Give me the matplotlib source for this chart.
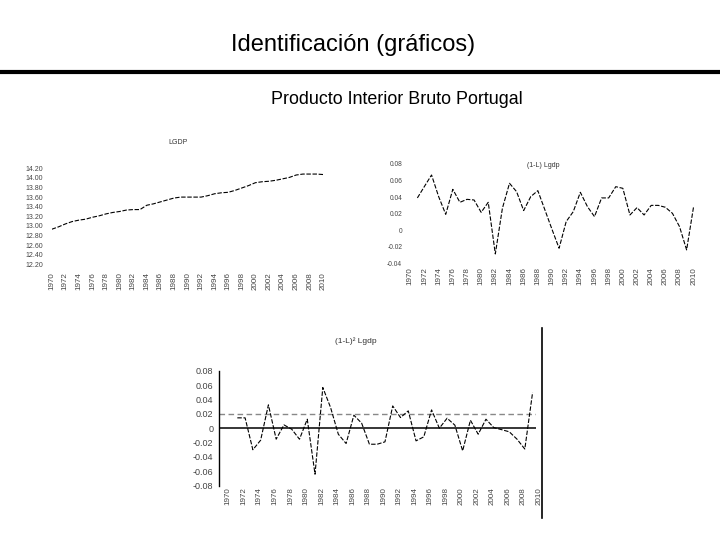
import matplotlib
matplotlib.use("Agg")
import matplotlib.pyplot as plt
import matplotlib.transforms as mtransforms

plt.rcParams['font.family'] = ['Liberation Sans', 'DejaVu Sans']

# ---------------- data ----------------
years = list(range(1970, 2011))
lgdp = [12.93, 12.98, 13.04, 13.09, 13.12, 13.14, 13.18, 13.21, 13.25, 13.28,
        13.30, 13.33, 13.34, 13.34, 13.43, 13.46, 13.50, 13.54, 13.58, 13.60,
        13.60, 13.60, 13.60, 13.63, 13.67, 13.69, 13.70, 13.74, 13.79, 13.84,
        13.90, 13.92, 13.93, 13.95, 13.98, 14.01, 14.06, 14.08, 14.08, 14.08,
        14.07]

years_d1 = list(range(1971, 2011))
d1_lgdp = [0.039, 0.053, 0.0667, 0.0406, 0.0192, 0.0494, 0.0337, 0.0373, 0.0365, 0.0216,
           0.0337, -0.0287, 0.0265, 0.0567, 0.0466, 0.0237, 0.0406, 0.0478, 0.0245, 0.0010,
           -0.0218, 0.0104, 0.0224, 0.0458, 0.0285, 0.0164, 0.039, 0.039, 0.0526, 0.0506,
           0.0184, 0.0273, 0.0184, 0.030, 0.030, 0.0277, 0.0204, 0.0043, -0.0238, 0.0293]

years_d2 = list(range(1972, 2011))
d2_lgdp = [0.0144, 0.0144, -0.030, -0.0167, 0.0325, -0.0153, 0.0046, -0.0014, -0.0153, 0.0125,
           -0.064, 0.0566, 0.0288, -0.0084, -0.0213, 0.0181, 0.007, -0.0223, -0.0223, -0.019,
           0.031, 0.0148, 0.0241, -0.0176, -0.012, 0.0255, 0.0, 0.0139, 0.0042, -0.0315,
           0.0111, -0.0084, 0.0125, 0.0009, -0.002, -0.005, -0.0153, -0.029, 0.0496]

xtick_years = list(range(1970, 2011, 2))
xtick_labels = [str(y) for y in xtick_years]

y1_ticks = [12.2, 12.4, 12.6, 12.8, 13.0, 13.2, 13.4, 13.6, 13.8, 14.0, 14.2]
y1_labels = ["12.20", "12.40", "12.60", "12.80", "13.00", "13.20", "13.40",
             "13.60", "13.80", "14.00", "14.20"]
y2_ticks = [-0.04, -0.02, 0.0, 0.02, 0.04, 0.06, 0.08]
y2_labels = ["-0.04", "-0.02", "0", "0.02", "0.04", "0.06", "0.08"]
y3_ticks = [-0.08, -0.06, -0.04, -0.02, 0.0, 0.02, 0.04, 0.06, 0.08]
y3_labels = ["-0.08", "-0.06", "-0.04", "-0.02", "0", "0.02", "0.04", "0.06", "0.08"]
ref_level = 0.02

main_title = "Identificación (gráficos)"
sub_title = "Producto Interior Bruto Portugal"
t1 = "LGDP"
t2 = "(1-L) Lgdp"
t3 = "(1-L)² Lgdp"

# ---------------- layout helpers ----------------
W, H = 720, 540
fig = plt.figure(figsize=(7.2, 5.4), dpi=100)
fig.patch.set_facecolor("white")


def rect(x0, x1, y0, y1):
    return [x0 / W, 1 - y1 / H, (x1 - x0) / W, (y1 - y0) / H]


LINE = dict(color="black", lw=0.8, linestyle=(0, (4, 1.5)))
TICKC = "#444444"


def style(ax, ypad, xpad, yfs, xfs):
    for s in ax.spines.values():
        s.set_visible(False)
    ax.tick_params(axis="both", length=0, colors=TICKC)
    ax.tick_params(axis="y", pad=ypad, labelsize=yfs)
    ax.tick_params(axis="x", pad=xpad, labelsize=xfs, labelrotation=90)
    ax.set_facecolor("none")


# header
fig.text(353 / W, 1 - 45 / H, main_title, ha="center", va="center", fontsize=17)
fig.add_artist(plt.Line2D([0, 1], [1 - 71.5 / H, 1 - 71.5 / H], color="black",
                          lw=3, transform=fig.transFigure))
fig.text(397 / W, 1 - 100 / H, sub_title, ha="center", va="center", fontsize=12.9)

# ---------------- chart 1 ----------------
ax1 = fig.add_axes(rect(51.7, 323.3, 168.3, 264.3))
ax1.plot(years, lgdp, **LINE)
ax1.set_xlim(1970, 2010)
ax1.set_ylim(12.2, 14.2)
ax1.set_yticks(y1_ticks)
ax1.set_yticklabels(y1_labels)
ax1.set_xticks(xtick_years)
ax1.set_xticklabels(xtick_labels)
style(ax1, 6.3, 5.5, 5, 5.8)
fig.text(178 / W, 1 - 143 / H, t1, ha="center", va="center", fontsize=5, color="#333333")

# ---------------- chart 2 ----------------
ax2 = fig.add_axes(rect(410.3, 693.7, 164, 263.3))
ax2.plot(years_d1, d1_lgdp, **LINE)
ax2.set_xlim(1970, 2010)
ax2.set_ylim(-0.04, 0.08)
ax2.set_yticks(y2_ticks)
ax2.set_yticklabels(y2_labels)
ax2.set_xticks(xtick_years)
ax2.set_xticklabels(xtick_labels)
style(ax2, 5.8, 2.7, 4.8, 5.8)
fig.text(543 / W, 1 - 166 / H, t2, ha="center", va="center", fontsize=5, color="#333333")

# ---------------- chart 3 ----------------
ax3 = fig.add_axes(rect(219.3, 536, 370.7, 485.7))
ax3.axhline(ref_level, color="#888888", lw=1.0, linestyle=(0, (4, 2.5)))
ax3.axhline(0, color="black", lw=1.1)
ax3.plot(years_d2, d2_lgdp, **LINE)
ax3.set_xlim(1969.68, 2010.44)
ax3.set_ylim(-0.08, 0.08)
ax3.set_yticks(y3_ticks)
ax3.set_yticklabels(y3_labels)
ax3.set_xticks(xtick_years)
ax3.set_xticklabels(xtick_labels)
style(ax3, 4.3, 1.0, 6.5, 5.8)
ax3.spines["left"].set_visible(True)
ax3.spines["left"].set_color("black")
ax3.spines["left"].set_linewidth(1.0)
shift = mtransforms.ScaledTranslation(6.5 / 100, 0, fig.dpi_scale_trans)
for lab in ax3.get_xticklabels():
    lab.set_transform(lab.get_transform() + shift)
fig.text(356 / W, 1 - 341 / H, t3, ha="center", va="center", fontsize=6, color="#333333")

# right border line of the slide panel
fig.add_artist(plt.Line2D([542 / W, 542 / W], [1 - 328 / H, 1 - 518 / H], color="black",
                          lw=1.2, transform=fig.transFigure))

fig.savefig("out.png", dpi=100, facecolor="white")
